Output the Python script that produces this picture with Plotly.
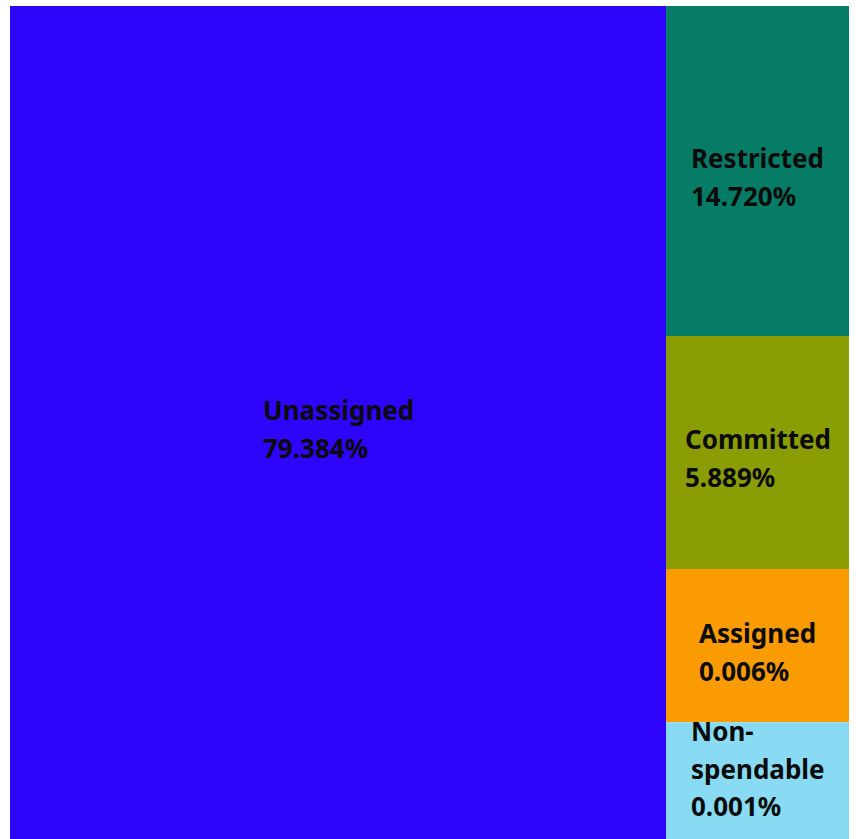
import plotly.graph_objects as go

# Fund balance components
categories = ["Unassigned", "Restricted", "Committed", "Assigned", "Non-spendable"]
label_lines = [["Unassigned"], ["Restricted"], ["Committed"], ["Assigned"], ["Non-", "spendable"]]
percent_share = [79.384, 14.720, 5.889, 0.006, 0.001]
# relative tile areas used for the tiling
tile_weight = [78.19, 8.64, 6.10, 4.01, 3.06]
tile_colors = ["#2e05fa", "#067c66", "#8a9d03", "#fa9b01", "#88dbf2"]

W, H = 856, 839
M = dict(l=10, r=7, t=6, b=0)
FONT = "Noto Sans"
GLYPH_PX = 26      # glyph size of the labels
LINE_BASE_PX = 29  # text element size that sets the line pitch


def squarify(values, x0, y0, x1, y1, ratio=1.0):
    """d3-style squarified tiling (same rule the treemap trace uses)."""
    rects = []
    value = float(sum(values))
    i0, n = 0, len(values)
    while i0 < n:
        dx, dy = x1 - x0, y1 - y0
        sum_v = values[i0]
        i1 = i0 + 1
        min_v = max_v = sum_v
        alpha = max(dy / dx, dx / dy) / (value * ratio)
        beta = sum_v * sum_v * alpha
        min_ratio = max(max_v / beta, beta / min_v)
        while i1 < n:
            nv = values[i1]
            s = sum_v + nv
            lo, hi = min(min_v, nv), max(max_v, nv)
            beta = s * s * alpha
            r = max(hi / beta, beta / lo)
            if r > min_ratio:
                break
            sum_v, min_v, max_v, min_ratio = s, lo, hi, r
            i1 += 1
        row = values[i0:i1]
        if dx < dy:
            h = dy * sum_v / value
            x = x0
            for v in row:
                w = dx * v / sum_v
                rects.append((x, y0, x + w, y0 + h))
                x += w
            y0 += h
        else:
            w = dx * sum_v / value
            y = y0
            for v in row:
                hh = dy * v / sum_v
                rects.append((x0, y, x0 + w, y + hh))
                y += hh
            x0 += w
        value -= sum_v
        i0 = i1
    return rects


fig = go.Figure(
    go.Treemap(
        labels=categories,
        parents=[""] * len(categories),
        values=tile_weight,
        sort=False,
        marker=dict(colors=tile_colors, line=dict(width=0),
                    pad=dict(t=0, l=0, r=0, b=0)),
        textinfo="none",
        hoverinfo="skip",
        pathbar=dict(visible=False),
        tiling=dict(packing="squarify", squarifyratio=1, pad=0),
    )
)


def span(s):
    return f"<span style='font-size:{GLYPH_PX}px'>{s}</span>"


# labels placed at the centre of each tile
pw, ph = W - M["l"] - M["r"], H - M["t"] - M["b"]
for (x0, y0, x1, y1), lines, pct in zip(squarify(tile_weight, 0, 0, pw, ph),
                                        label_lines, percent_share):
    cx = (x0 + x1) / 2 / pw
    cy = 1 - (y0 + y1) / 2 / ph
    text = "<br>".join(span(s) for s in lines + [f"{pct:.3f}%"])
    fig.add_annotation(
        x=cx, y=cy, xref="paper", yref="paper",
        xanchor="center", yanchor="bottom", yshift=-45,
        align="left", showarrow=False,
        text=text,
        font=dict(family=FONT, size=LINE_BASE_PX, color="#0b0b0b", weight="bold"),
    )

fig.update_layout(
    width=W, height=H,
    margin=M,
    paper_bgcolor="white",
    plot_bgcolor="white",
    showlegend=False,
)

fig.write_html("out.html")
